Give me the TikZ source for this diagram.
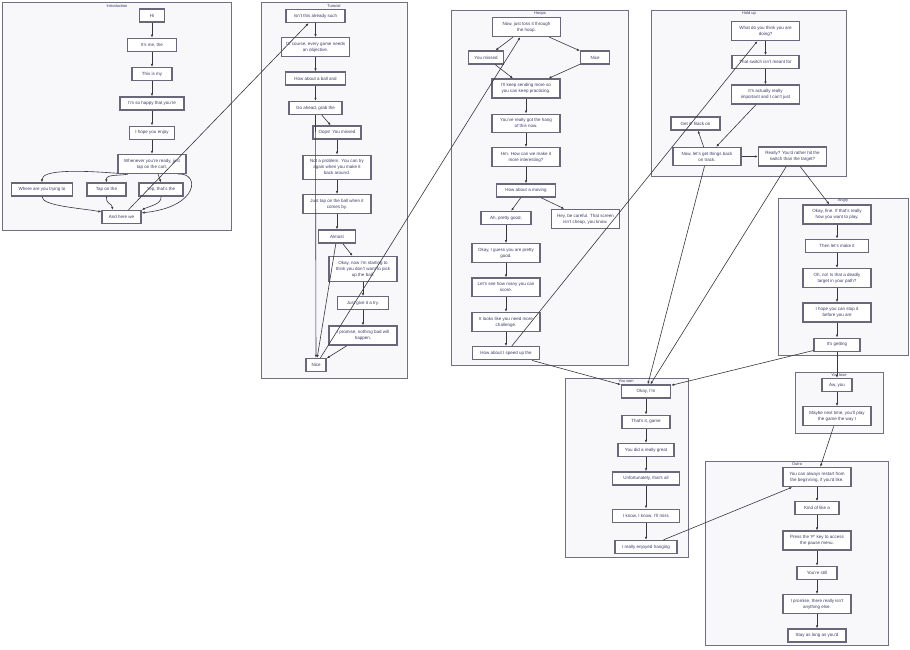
\documentclass[tikz,border=0pt]{standalone}
\usepackage{fontspec}
\setmainfont{Liberation Sans}
\usetikzlibrary{positioning,arrows.meta}
\definecolor{clusterfill}{RGB}{248,248,251}
\definecolor{clusterline}{RGB}{112,112,132}
\definecolor{boxline}{RGB}{104,104,122}
\definecolor{dialogtext}{RGB}{58,58,100}
\definecolor{linkline}{RGB}{55,55,60}

\begin{document}
\begin{tikzpicture}[x=1pt, y=-1pt,
  dialognode/.style={rectangle, draw=boxline, fill=white, line width=1.3pt, inner xsep=4pt, inner ysep=4.4pt, minimum height=13pt, font=\fontsize{4.5}{6}\selectfont, text=dialogtext},
  widenode/.style={dialognode, align=center, minimum width=68pt},
  clusterbox/.style={draw=clusterline, fill=clusterfill, line width=0.8pt},
  clusterlabel/.style={font=\fontsize{4}{5}\selectfont, text=dialogtext, inner sep=0pt},
  link/.style={draw=linkline, line width=0.6pt, -{Latex[length=3pt,width=2.4pt]}}]

        \fill[white] (0,0) rectangle (910,649);
        \useasboundingbox (0,0) rectangle (910,649);

        % Introduction
        \draw[clusterbox] (2,2) rectangle (231,230);
        \node[clusterlabel] (introlabel) at (117,6) {Introduction};
        \node[dialognode, minimum width=25pt] (i1) at (152,15.5) {Hi};
        \node[dialognode, minimum width=49pt] (i2) [below=15pt of i1] {It's me, the};
        \node[dialognode, minimum width=40pt] (i3) [below=15pt of i2] {This is my};
        \node[dialognode, minimum width=64pt] (i4) [below=15pt of i3] {I'm so happy that you're};
        \node[dialognode, minimum width=45pt] (i5) [below=15pt of i4] {I hope you enjoy};
        \node[widenode] (i6) [below=14pt of i5] {Whenever you're ready, just\\tap on the cart.};
        \node[dialognode, minimum width=61pt] (i7) at (42,189.5) {Where are you trying to};
        \node[dialognode, minimum width=39pt] (i8) at (106.5,189.5) {Tap on the};
        \node[dialognode, minimum width=44pt] (i9) at (161,189.5) {Yep, that's the};
        \node[dialognode, minimum width=39pt] (i10) at (121.5,217) {And here we};

        % Tutorial
        \draw[clusterbox] (261,2) rectangle (407,378);
        \node[clusterlabel] (tutlabel) at (334,6) {Tutorial};
        \node[dialognode, minimum width=59pt] (t1) at (315.5,16) {Isn't this already such};
        \node[widenode] (t2) [below=14pt of t1] {Of course, every game needs\\an objective.};
        \node[dialognode, minimum width=60pt] (t3) [below=14pt of t2] {How about a ball and};
        \node[dialognode, minimum width=53pt] (t4) [below=15pt of t3] {Go ahead, grab the};
        \node[dialognode, minimum width=48pt] (t5) at (337,132.5) {Oops! You missed};
        \node[widenode] (t6) [below=15pt of t5] {Not a problem. You can try\\again when you make it\\back around.};
        \node[widenode] (t7) [below=14pt of t6] {Just tap on the ball when it\\comes by.};
        \node[dialognode, minimum width=37pt] (t8) [below=15pt of t7] {Almost};
        \node[widenode] (t9) at (363,269) {Okay, now I'm starting to\\think you don't want to pick\\up the ball.};
        \node[dialognode, minimum width=51pt] (t10) [below=14pt of t9] {Just give it a try.};
        \node[widenode] (t11) [below=15pt of t10] {I promise, nothing bad will\\happen.};
        \node[dialognode, minimum width=20pt] (t12) at (316,365) {Nice};

        % Hoops
        \draw[clusterbox] (451,10) rectangle (628,365);
        \node[clusterlabel] (hooplabel) at (540,13.5) {Hoops};
        \node[widenode] (h1) at (526.5,27) {Now, just toss it through\\the hoop.};
        \node[dialognode, minimum width=35pt] (h2) at (486,57.5) {You missed};
        \node[dialognode, minimum width=29pt] (h3) at (595,57.5) {Nice};
        \node[widenode] (h4) at (526,88.5) {I'll keep sending more so\\you can keep practicing.};
        \node[widenode] (h5) [below=15pt of h4] {You've really got the hang\\of this now.};
        \node[widenode] (h6) [below=14pt of h5] {Hm. How can we make it\\more interesting?};
        \node[dialognode, minimum width=59pt] (h7) [below=16pt of h6] {How about a moving};
        \node[dialognode, minimum width=50pt] (h8) at (506,218) {Ah, pretty good,};
        \node[widenode] (h9) at (585.5,219) {Hey, be careful. That screen\\isn't cheap, you know.};
        \node[widenode] (h10) [below=18pt of h8] {Okay, I guess you are pretty\\good.};
        \node[widenode] (h11) [below=14pt of h10] {Let's see how many you can\\score.};
        \node[widenode] (h12) [below=15pt of h11] {It looks like you need more\\challenge.};
        \node[dialognode, minimum width=67pt] (h13) [below=14pt of h12] {How about I speed up the};

        % Hold up
        \draw[clusterbox] (651,10) rectangle (846,176);
        \node[clusterlabel] (holdlabel) at (749,13.5) {Hold up};
        \node[widenode] (u1) at (765.5,31) {What do you think you are\\doing?};
        \node[dialognode, minimum width=67pt] (u2) [below=14pt of u1] {That switch isn't meant for};
        \node[widenode] (u3) [below=15pt of u2] {It's actually really\\important and I can't just};
        \node[dialognode, minimum width=49pt] (u4) at (695.5,123.5) {Get it! Back on};
        \node[widenode] (u5) at (707,156.5) {Now, let's get things back\\on track.};
        \node[widenode] (u6) at (792.5,156.5) {Really? You'd rather hit the\\switch than the target?};

        % Angry
        \draw[clusterbox] (778,198) rectangle (908,355);
        \node[clusterlabel] (angrylabel) at (843,201) {Angry};
        \node[widenode] (a1) at (837,214.5) {Okay, fine. If that's really\\how you want to play.};
        \node[dialognode, minimum width=63pt] (a2) [below=14pt of a1] {Then let's make it};
        \node[widenode] (a3) [below=15pt of a2] {Oh, no! Is that a deadly\\target in your path?};
        \node[widenode] (a4) [below=14pt of a3] {I hope you can stop it\\before you are};
        \node[dialognode, minimum width=46pt] (a5) [below=15pt of a4] {It's getting};

        % You won
        \draw[clusterbox] (565,378) rectangle (688,557);
        \node[clusterlabel] (wonlabel) at (626,381.5) {You won};
        \node[dialognode, minimum width=49pt] (w1) at (646,391.5) {Okay, I'm};
        \node[dialognode, minimum width=48pt] (w2) [below=16pt of w1] {That's it, game};
        \node[dialognode, minimum width=56pt] (w3) [below=14pt of w2] {You did a really great};
        \node[dialognode, minimum width=67pt] (w4) [below=14pt of w3] {Unfortunately, that's all};
        \node[dialognode, minimum width=67pt] (w5) [below=23pt of w4] {I know, I know. I'll miss};
        \node[dialognode, minimum width=62pt] (w6) [below=17pt of w5] {I really enjoyed hanging};

        % You lose
        \draw[clusterbox] (795,372) rectangle (883,433);
        \node[clusterlabel] (loselabel) at (839,375.5) {You lose};
        \node[dialognode, minimum width=30pt] (l1) at (837,385) {Aw, you};
        \node[widenode] (l2) [below=14pt of l1] {Maybe next time, you'll play\\the game the way I};

        % Outro
        \draw[clusterbox] (705,461) rectangle (888,645);
        \node[clusterlabel] (outrolabel) at (797,464.5) {Outro};
        \node[widenode] (o1) at (817,477) {You can always restart from\\the beginning, if you'd like.};
        \node[dialognode, minimum width=44pt] (o2) [below=14pt of o1] {Kind of like a};
        \node[widenode] (o3) [below=15pt of o2] {Press the `P' key to access\\the pause menu.};
        \node[dialognode, minimum width=40pt] (o4) [below=15pt of o3] {You're still};
        \node[widenode] (o5) [below=14pt of o4] {I promise, there really isn't\\anything else.};
        \node[dialognode, minimum width=58pt] (o6) [below=14pt of o5] {Stay as long as you'd};

        % connectors
        \draw[link] (i1) -- (i2);
        \draw[link] (i2) -- (i3);
        \draw[link] (i3) -- (i4);
        \draw[link] (i4) -- (i5);
        \draw[link] (i5) -- (i6);
        \draw[link] (i6.195) .. controls (75,170) and (42,170) .. (i7.north);
        \draw[link] ([xshift=-24pt]i6.south) .. controls (118,176) and (106,174) .. (i8.north);
        \draw[link] ([xshift=6pt]i6.south) -- (i9.north);
        \draw[link] ([xshift=26pt]i6.south) .. controls (200,172) and (200,207) .. ([yshift=-3pt]i10.north east);
        \draw[link] (i7.south) .. controls (42,206) and (80,208) .. ([yshift=-2pt]i10.north west);
        \draw[link] (i8.south) .. controls (106,205) and (112,203) .. ([xshift=-9pt]i10.north);
        \draw[link] (i9.south) .. controls (162,204) and (150,206) .. (i10.north east);
        \draw[link] (i10) -- (t1);

        \draw[link] (t1) -- (t2);
        \draw[link] (t2) -- (t3);
        \draw[link] (t3) -- (t4);
        \draw[link] (t4) -- (t5);
        \draw[link] (t5) -- (t6);
        \draw[link] (t6) -- (t7);
        \draw[link] (t7) -- (t8);
        \draw[link] (t8) -- (t9);
        \draw[link] (t9) -- (t10);
        \draw[link] (t10) -- (t11);
        \draw[link] (t11) -- (t12);
        \draw[link] (t4) -- (t12);
        \draw[link] (t8) -- (t12);
        \draw[link] (t12) -- (h1);

        \draw[link] (h1) -- (h2);
        \draw[link] (h1) -- (h3);
        \draw[link] (h2) -- (h4);
        \draw[link] (h3) -- (h4);
        \draw[link] (h4) -- (h5);
        \draw[link] (h5) -- (h6);
        \draw[link] (h6) -- (h7);
        \draw[link] (h7) -- (h8);
        \draw[link] (h7) -- (h9);
        \draw[link] (h8) -- (h10);
        \draw[link] (h10) -- (h11);
        \draw[link] (h11) -- (h12);
        \draw[link] (h12) -- (h13);
        \draw[link] (h13) -- (u1);
        \draw[link] (h13) -- (w1);

        \draw[link] (u1) -- (u2);
        \draw[link] (u2) -- (u3);
        \draw[link] (u3) -- (u5);
        \draw[link] (u5) -- (u4);
        \draw[link] (u5) -- (u6);
        \draw[link] (u5) -- (w1);
        \draw[link] (u6) -- (w1);
        \draw[link] (u6) -- (a1);

        \draw[link] (a1) -- (a2);
        \draw[link] (a2) -- (a3);
        \draw[link] (a3) -- (a4);
        \draw[link] (a4) -- (a5);
        \draw[link] (a5) -- (w1);
        \draw[link] (a5) -- (l1);

        \draw[link] (w1) -- (w2);
        \draw[link] (w2) -- (w3);
        \draw[link] (w3) -- (w4);
        \draw[link] (w4) -- (w5);
        \draw[link] (w5) -- (w6);
        \draw[link] (w6) -- (o1);

        \draw[link] (l1) -- (l2);
        \draw[link] (l2) -- (o1);

        \draw[link] (o1) -- (o2);
        \draw[link] (o2) -- (o3);
        \draw[link] (o3) -- (o4);
        \draw[link] (o4) -- (o5);
        \draw[link] (o5) -- (o6);

\end{tikzpicture}
\end{document}
